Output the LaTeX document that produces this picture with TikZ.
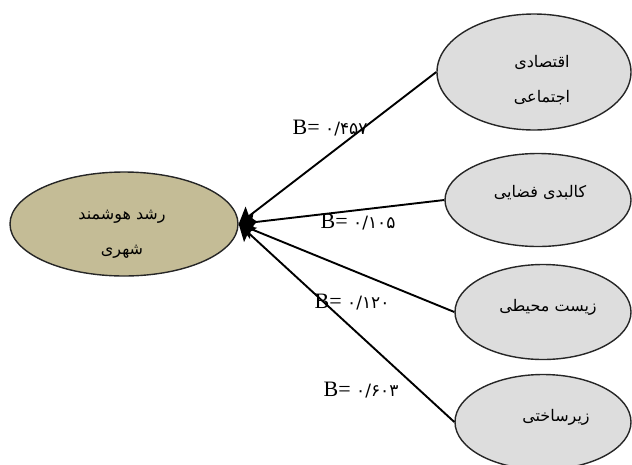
\documentclass[tikz,border=0pt]{standalone}
\usepackage{fontspec}
\setmainfont{Liberation Serif}
\newfontfamily\arabicfont[Script=Arabic]{DejaVu Sans}
\TeXXeTstate=1
\usetikzlibrary{shapes.geometric,arrows.meta}
\definecolor{tanfill}{RGB}{196,188,150}
\definecolor{grayfill}{RGB}{221,221,221}
\newcommand{\labdigits}{\arabicfont\fontsize{17}{20}\selectfont}
\begin{document}
\begin{tikzpicture}[x=1pt,y=-1pt,
  mainell/.style={ellipse, draw=black!85, line width=1.4pt, fill=tanfill, inner sep=0pt},
  sideell/.style={ellipse, draw=black!85, line width=1.4pt, fill=grayfill, inner sep=0pt},
  ttext/.style={align=center, inner sep=0pt, font=\arabicfont\fontsize{16}{35}\selectfont},
  lab/.style={inner sep=0pt, font=\fontsize{22}{24}\selectfont},
  conn/.style={line width=1.9pt, -{Stealth[length=16pt,width=19pt,inset=3pt]}}]
\useasboundingbox (0,0) rectangle (632,464);

\node[mainell, minimum width=228pt, minimum height=104pt] (m) at (124,224) {};
\node[sideell, minimum width=194pt, minimum height=116pt] (e1) at (534,72) {};
\node[sideell, minimum width=186pt, minimum height=93pt] (e2) at (538,200) {};
\node[sideell, minimum width=176pt, minimum height=95pt] (e3) at (543,312) {};
\node[sideell, minimum width=176pt, minimum height=95pt] (e4) at (543,422) {};

\node[ttext] (tm) at (122,234) {\beginR رشد هوشمند\endR\\\beginR شهری\endR};
\node[ttext] (t1) at (542,80) {\beginR اقتصادی\endR\\\beginR اجتماعی\endR};
\node[ttext] (t2) at (540,193) {\beginR کالبدی فضایی\endR};
\node[ttext] (t3) at (548,307) {\beginR زیست محیطی\endR};
\node[ttext] (t4) at (556,417) {\beginR زیرساختی\endR};

\draw[conn] (e1.west) -- (m.east);
\draw[conn] (e2.west) -- (m.east);
\draw[conn] (e3.west) -- (m.east);
\draw[conn] (e4.west) -- (m.east);

\node[lab] (l1) at (330,128) {B= {\labdigits ۰/۴۵۷}};
\node[lab] (l2) at (358,222) {B= {\labdigits ۰/۱۰۵}};
\node[lab] (l3) at (352,302) {B= {\labdigits ۰/۱۲۰}};
\node[lab] (l4) at (361,390) {B= {\labdigits ۰/۶۰۳}};
\end{tikzpicture}
\end{document}
